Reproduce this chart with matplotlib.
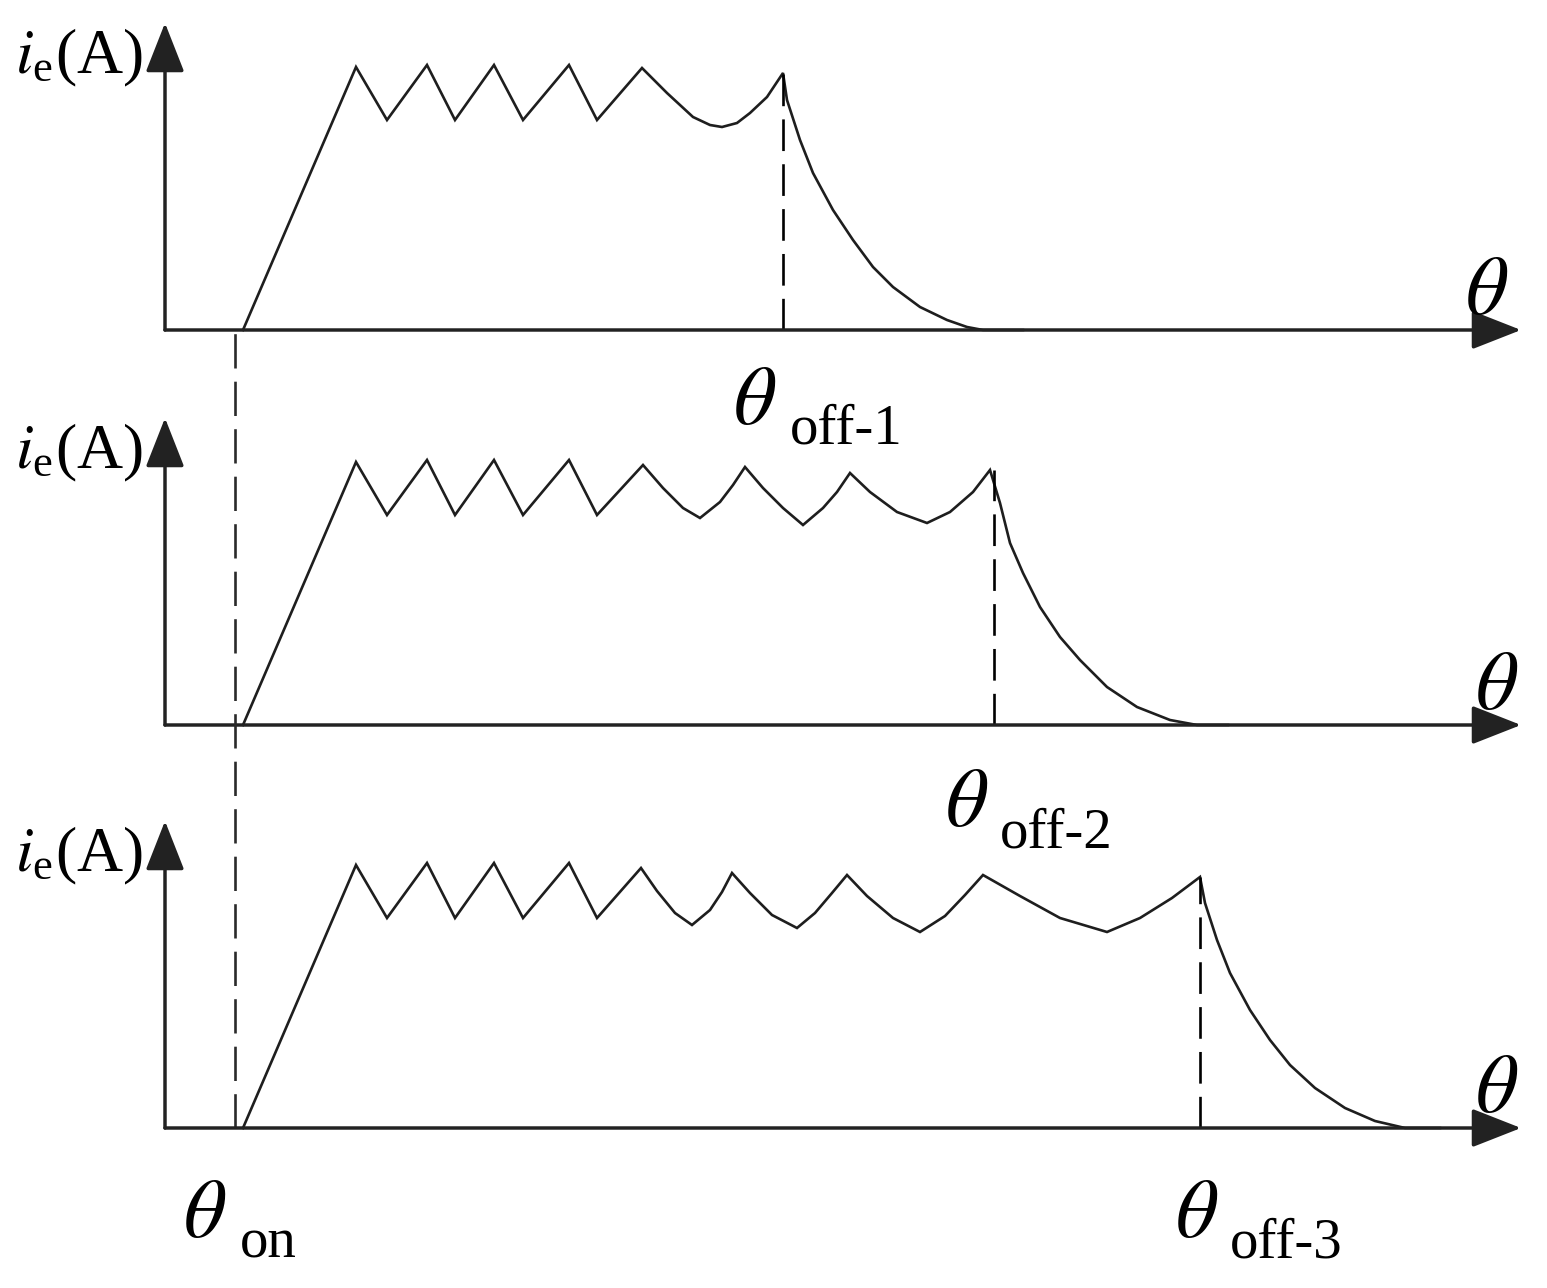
import matplotlib
matplotlib.use("Agg")
import matplotlib.pyplot as plt

plt.rcParams["mathtext.fontset"] = "stix"
plt.rcParams["font.family"] = ["Liberation Serif", "DejaVu Serif"]

# Shared rising ramp and first zigzag (theta, current), same in all three panels
ramp_theta = [78, 191, 222, 262, 290, 329, 358, 404, 432]
ramp_i = [0, 263, 210, 265, 210, 265, 210, 265, 210]

# Panel 1: turn-off at theta_off-1
p1_theta = [477, 502, 528, 545, 557, 572, 585, 602, 618,
            622, 635, 648, 668, 688, 708, 728, 755, 782, 802, 818, 858]
p1_i = [262, 237, 213, 205, 203, 207, 217, 233, 257,
        230, 190, 157, 120, 90, 63, 43, 23, 10, 3, 0, 0]

# Panel 2: turn-off at theta_off-2
p2_theta = [478, 498, 518, 535, 555, 568, 580, 598, 618, 638, 658, 672, 685,
            705, 732, 762, 785, 808, 825,
            835, 845, 858, 875, 895, 915, 942, 972, 1005, 1032, 1063]
p2_i = [260, 237, 217, 207, 223, 240, 258, 237, 217, 200, 217, 233, 252,
        233, 213, 202, 213, 233, 255,
        222, 182, 152, 118, 88, 65, 38, 18, 5, 0, 0]

# Panel 3: turn-off at theta_off-3
p3_theta = [476, 492, 510, 527, 545, 557, 567, 585, 607, 632, 650, 667, 682,
            702, 728, 755, 780, 800, 818, 855, 895, 942, 975, 1007, 1035,
            1040, 1052, 1065, 1085, 1105, 1125, 1150, 1180, 1210, 1240, 1275]
p3_i = [260, 237, 215, 203, 218, 236, 255, 235, 213, 200, 215, 235, 253,
        232, 210, 196, 212, 233, 253, 232, 210, 196, 210, 230, 251,
        225, 188, 155, 118, 88, 63, 40, 20, 7, 0, 0]

theta_on = 70
theta_off = [618, 829, 1035]
i_off = [257, 255, 251]
off_labels = ["off-1", "off-2", "off-3"]

W, H = 1547, 1288
axis_rows = [330, 725, 1128]  # pixel row of each theta axis

fig = plt.figure(figsize=(W / 100, H / 100), dpi=100)
fig.patch.set_facecolor("white")

series = [(p1_theta, p1_i), (p2_theta, p2_i), (p3_theta, p3_i)]
axes = []
for k, (th, cur) in enumerate(series):
    ya = axis_rows[k]
    ax = fig.add_axes([165 / W, (H - ya) / H, 1365 / W, 320 / H])
    ax.set_xlim(0, 1365)
    ax.set_ylim(0, 320)
    ax.axis("off")
    axes.append(ax)

    # axes with arrowheads
    arrow = dict(arrowstyle="-|>,head_length=1.4,head_width=0.55",
                 lw=2.5, color="#222222", shrinkA=0, shrinkB=0,
                 mutation_scale=22)
    ax.annotate("", xy=(1356, 0), xytext=(0, 0), arrowprops=arrow,
                annotation_clip=False)
    ax.annotate("", xy=(0, 307), xytext=(0, 0), arrowprops=arrow,
                annotation_clip=False)

    # current waveform
    ax.plot(ramp_theta + th, ramp_i + cur, color="#1e1e1e", lw=1.9,
            clip_on=False, solid_joinstyle="miter")

    # turn-off dashed marker
    ax.plot([theta_off[k], theta_off[k]], [0, i_off[k]], color="black",
            lw=1.9, dashes=(12, 5), clip_on=False)

    # labels
    ax.text(-22, 272, r"$i_{\mathregular{e}}$(A)", fontsize=46, ha="right",
            va="center", clip_on=False)
    ax.text(1300 if k == 0 else 1310, 16, r"$\theta$", fontsize=60,
            ha="left", va="baseline", clip_on=False)

# theta_on dashed line across all panels (drawn in bottom panel units)
axes[2].plot([theta_on, theta_on], [0, axis_rows[2] - axis_rows[0]],
             color="#2a2a2a", lw=1.9, dashes=(13, 5), clip_on=False)

# theta_off labels
lab_pos = [(568, -94, 625, -113), (780, -101, 835, -123),
           (1010, -109, 1065, -130)]
for k, (tx, ty, sx, sy) in enumerate(lab_pos):
    axes[k].text(tx, ty, r"$\theta$", fontsize=60, ha="left",
                 va="baseline", clip_on=False)
    axes[k].text(sx, sy, off_labels[k], fontsize=41, ha="left",
                 va="baseline", clip_on=False)

axes[2].text(18, -109, r"$\theta$", fontsize=60, ha="left", va="baseline",
             clip_on=False)
axes[2].text(75, -130, "on", fontsize=41, ha="left", va="baseline",
             clip_on=False)

fig.savefig("out.png", dpi=100, facecolor="white")
